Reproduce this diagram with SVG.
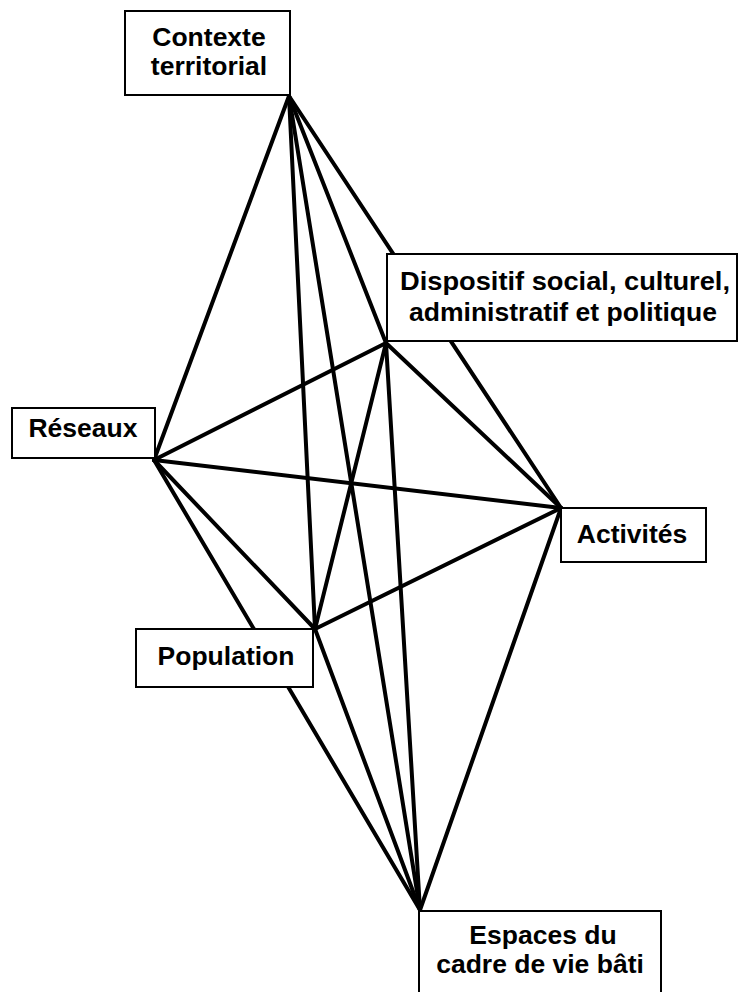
<svg xmlns="http://www.w3.org/2000/svg" width="739" height="992" viewBox="0 0 739 992">
<style>
.edge{stroke:#000;stroke-width:4;stroke-linecap:round;fill:none}
.box{fill:#fff;stroke:#000;stroke-width:2}
.lbl{font-family:"Liberation Sans",Arial,Helvetica,sans-serif;font-weight:bold;font-size:26.5px;fill:#000;text-anchor:middle}
</style>
<rect width="739" height="992" fill="#fff"/>
<g id="connectors">
<line class="edge" x1="289" y1="96" x2="154" y2="460"/>
<line class="edge" x1="289" y1="96" x2="386" y2="343"/>
<line class="edge" x1="289" y1="96" x2="561" y2="508"/>
<line class="edge" x1="289" y1="96" x2="315" y2="629"/>
<line class="edge" x1="289" y1="96" x2="420" y2="910"/>
<line class="edge" x1="386" y1="343" x2="154" y2="460"/>
<line class="edge" x1="386" y1="343" x2="561" y2="508"/>
<line class="edge" x1="386" y1="343" x2="315" y2="629"/>
<line class="edge" x1="386" y1="343" x2="420" y2="910"/>
<line class="edge" x1="154" y1="460" x2="561" y2="508"/>
<line class="edge" x1="154" y1="460" x2="315" y2="629"/>
<line class="edge" x1="154" y1="460" x2="420" y2="910"/>
<line class="edge" x1="561" y1="508" x2="315" y2="629"/>
<line class="edge" x1="561" y1="508" x2="420" y2="910"/>
<line class="edge" x1="315" y1="629" x2="420" y2="910"/>
</g>
<g id="contexte">
<rect class="box" x="125" y="11" width="165" height="84"/>
<text class="lbl" x="209" y="46">Contexte</text>
<text class="lbl" x="209" y="75">territorial</text>
</g>
<g id="dispositif">
<rect class="box" x="387" y="254" width="350" height="87"/>
<text class="lbl" x="565" y="290" textLength="330" lengthAdjust="spacingAndGlyphs">Dispositif social, culturel,</text>
<text class="lbl" x="563" y="321" textLength="308" lengthAdjust="spacingAndGlyphs">administratif et politique</text>
</g>
<g id="reseaux">
<rect class="box" x="12" y="408" width="143" height="50"/>
<text class="lbl" x="83" y="437">Réseaux</text>
</g>
<g id="activites">
<rect class="box" x="561" y="508" width="145" height="54"/>
<text class="lbl" x="632" y="543">Activités</text>
</g>
<g id="population">
<rect class="box" x="136" y="629" width="177" height="58"/>
<text class="lbl" x="226" y="665">Population</text>
</g>
<g id="espaces">
<rect class="box" x="419" y="911" width="242" height="90"/>
<text class="lbl" x="543" y="944">Espaces du</text>
<text class="lbl" x="540" y="973">cadre de vie bâti</text>
</g>
</svg>
